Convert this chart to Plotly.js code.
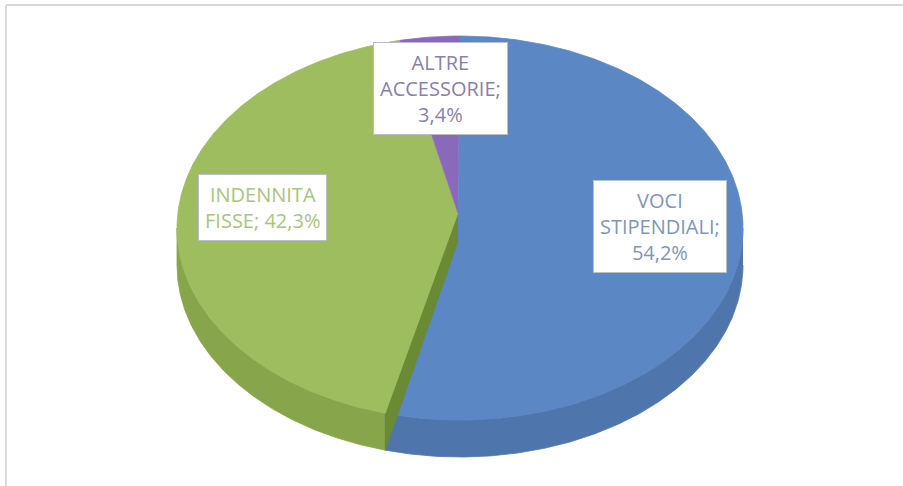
<!DOCTYPE html>
<html>
<head>
<meta charset="utf-8">
<script src="https://cdn.plot.ly/plotly-3.0.1.min.js"></script>
<style>
  html, body { margin: 0; padding: 0; background: #ffffff; }
  #chart { width: 903px; height: 486px; }
</style>
</head>
<body>
<div id="chart"></div>
<script>
// ---- data ----
const categories = ['VOCI STIPENDIALI', 'INDENNITA FISSE', 'ALTRE ACCESSORIE'];
const values = [54.2, 42.3, 3.4];

// ---- styles / geometry (pixel-space axes) ----
const topColors  = ['#5b87c4', '#9dbd5e', '#8a69bb'];
const sideColors = ['#4e76ad', '#87a54b', '#6f5396'];
const faceColors = ['#3f6190', '#6a8a34', '#5b437d'];
const textColors = ['#8196b6', '#a9c47c', '#8a7fa6'];
const labelSep   = ['<br>', ' ', '<br>'];
const labelPos   = [[660, 226], [262, 207], [440, 88]];

const cx = 460, cy = 228, a = 283, b = 192;
const apex = [458, 213];
const depthRim = 37, depthApex = 28;

function rim(t) {
  const r = t * Math.PI / 180;
  return [cx + a * Math.sin(r), cy - b * Math.cos(r)];
}
function range(t1, t2, step) {
  const out = [];
  for (let t = t1; t < t2; t += step) out.push(t);
  out.push(t2);
  return out;
}

const total = values.reduce((s, v) => s + v, 0);
const starts = [], ends = [];
let acc = 0;
values.forEach(v => { starts.push(acc / total * 360); acc += v; ends.push(acc / total * 360); });

const traces = [];
function poly(pts, fill, lineColor) {
  traces.push({
    type: 'scatter', mode: 'lines', fill: 'toself',
    x: pts.map(p => p[0]), y: pts.map(p => p[1]),
    fillcolor: fill, line: { color: lineColor || fill, width: 0.8 },
    hoverinfo: 'skip', showlegend: false
  });
}

// side walls (front half only)
values.forEach((v, i) => {
  const s1 = Math.max(starts[i], 90), s2 = Math.min(ends[i], 270);
  if (s1 < s2) {
    const ts = range(s1, s2, 0.5);
    const topPts = ts.map(rim);
    const botPts = ts.map(rim).map(p => [p[0], p[1] + depthRim]).reverse();
    poly(topPts.concat(botPts), sideColors[i], sideColors[i]);
  }
});

// top faces, with the visible radial cut face of the second slice
function topFace(i) {
  const ts = range(starts[i], ends[i], 0.5);
  poly([apex].concat(ts.map(rim)), topColors[i]);
}
topFace(0);
(function () {
  const p = rim(starts[1]);
  poly([apex, p, [p[0], p[1] + depthRim], [apex[0], apex[1] + depthApex]], faceColors[1]);
})();
topFace(1);
topFace(2);

// labels
const annotations = categories.map((c, i) => ({
  x: labelPos[i][0], y: labelPos[i][1], xref: 'x', yref: 'y',
  text: c.replace(' ', '<br>') + ';' + labelSep[i] + values[i].toFixed(1).replace('.', ',') + '%',
  showarrow: false, align: 'center',
  font: { family: 'Open Sans, Lato, sans-serif', size: 20, color: textColors[i] },
  bgcolor: '#ffffff', bordercolor: '#bdbdc6', borderwidth: 1, borderpad: 6
}));

const layout = {
  width: 903, height: 486,
  margin: { l: 0, r: 0, t: 0, b: 0 },
  paper_bgcolor: '#ffffff', plot_bgcolor: '#ffffff',
  xaxis: { range: [0, 903], visible: false, fixedrange: true },
  yaxis: { range: [486, 0], visible: false, fixedrange: true },
  showlegend: false,
  annotations: annotations,
  shapes: [
    { type: 'line', xref: 'x', yref: 'y', x0: 6, x1: 903, y0: 5, y1: 5, line: { color: '#d9d9d9', width: 2 } },
    { type: 'line', xref: 'x', yref: 'y', x0: 6, x1: 6, y0: 5, y1: 486, line: { color: '#d9d9d9', width: 2 } }
  ]
};

Plotly.newPlot('chart', traces, layout, { displayModeBar: false, staticPlot: true });
</script>
</body>
</html>
